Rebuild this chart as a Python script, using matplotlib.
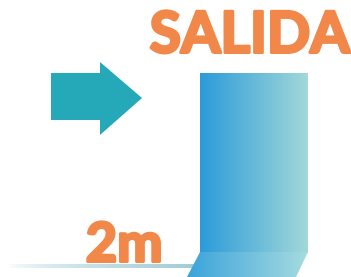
import matplotlib
matplotlib.use("Agg")
import matplotlib.pyplot as plt
import matplotlib.patheffects as pe
import numpy as np
from matplotlib.patches import Polygon

# shapes in pixel coordinates (origin top-left)
arrow_pts = [(51, 73), (100, 73), (100, 62), (142, 98), (100, 135), (100, 120), (51, 120)]
door_pts = [(200, 73), (308, 73), (308, 252), (200, 252)]
floor_pts = [(200, 252), (308, 252), (296, 277), (187, 277)]
title_text = "SALIDA"
dist_text = "2m"

orange = "#f2874a"
teal = "#25a8b8"

fig = plt.figure(figsize=(3.51, 2.77), dpi=100)
ax = fig.add_axes([0, 0, 1, 1])
ax.set_xlim(0, 351)
ax.set_ylim(277, 0)
ax.axis("off")


def gradient_fill(pts, c0, c1, alpha=1.0, z=2):
    xs = [p[0] for p in pts]
    ys = [p[1] for p in pts]
    poly = Polygon(pts, closed=True, facecolor="none", edgecolor="none")
    ax.add_patch(poly)
    c0 = np.array(matplotlib.colors.to_rgb(c0))
    c1 = np.array(matplotlib.colors.to_rgb(c1))
    t = np.linspace(0, 1, 256)[None, :, None]
    img = c0 + (c1 - c0) * t
    im = ax.imshow(img, extent=(min(xs), max(xs), max(ys), min(ys)),
                   aspect="auto", alpha=alpha, zorder=z)
    im.set_clip_path(poly)


# floor line fading in from the left
line_img = np.ones((1, 256, 4))
line_img[0, :, :3] = matplotlib.colors.to_rgb("#9cc9d3")
line_img[0, :, 3] = np.linspace(0, 1, 256) ** 0.6
ax.imshow(line_img, extent=(8, 218, 268, 264), aspect="auto", zorder=1)

gradient_fill(door_pts, "#2b9bd9", "#a2d8da")
gradient_fill(floor_pts, "#3aa3db", "#a6dbe0", z=3)

ax.add_patch(Polygon(arrow_pts, closed=True, facecolor=teal, edgecolor="none"))

thick = [pe.withStroke(linewidth=2.2, foreground=orange)]
ax.text(250, 36, title_text, color=orange, fontsize=41, fontweight="bold",
        family="Lato", ha="center", va="center", path_effects=thick)
ax.text(124, 246, dist_text, color=orange, fontsize=39, fontweight="bold",
        family="Lato", ha="center", va="center", zorder=4, path_effects=thick)

fig.savefig("out.png", dpi=100)
